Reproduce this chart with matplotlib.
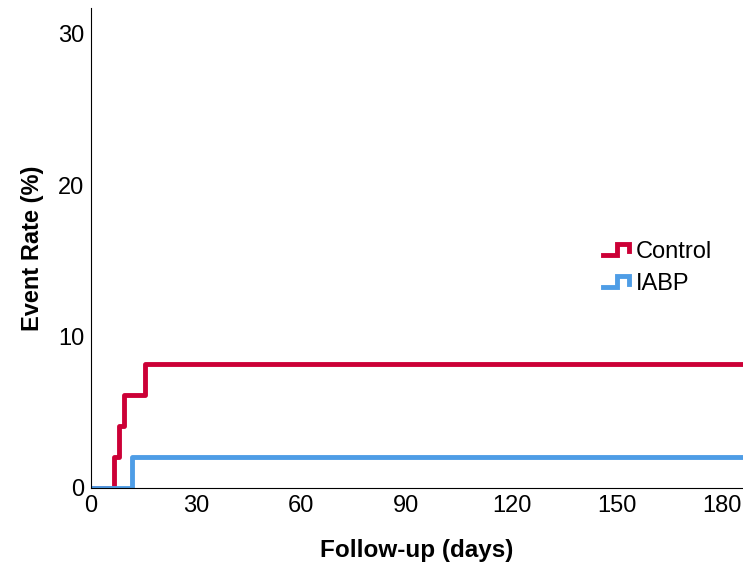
import matplotlib.pyplot as plt
from matplotlib.legend_handler import HandlerBase
from matplotlib.lines import Line2D

plt.rcParams['font.family'] = ['Liberation Sans', 'DejaVu Sans']

# Kaplan-Meier style event rates (%) by follow-up day
control_days = [0, 6.6, 8.0, 9.5, 15.5, 186]
control_rate = [0, 2.04, 4.08, 6.12, 8.16, 8.16]
iabp_days = [0, 11.8, 186]
iabp_rate = [0, 2.04, 2.04]

red = '#CC0036'
blue = '#4E9DE6'


class StepHandler(HandlerBase):
    def create_artists(self, legend, orig_handle, xdescent, ydescent,
                       width, height, fontsize, trans):
        x0, w, h = -xdescent, width, height
        xs = [x0, x0 + w * 0.5, x0 + w * 0.5, x0 + w * 0.93, x0 + w * 0.93]
        ys = [h * 0.2, h * 0.2, h * 0.85, h * 0.85, h * 0.4]
        ln = Line2D(xs, ys, color=orig_handle.get_color(), lw=3.5,
                    solid_joinstyle='miter', transform=trans)
        return [ln]


fig = plt.figure(figsize=(7.43, 5.64), dpi=100)
ax = fig.add_axes([91 / 743, 1 - 488 / 564, 652 / 743, 480 / 564])

l1, = ax.step(control_days, control_rate, where='post', color=red, lw=3.5, label='Control')
l2, = ax.step(iabp_days, iabp_rate, where='post', color=blue, lw=3.5, label='IABP')

ax.set_xlim(0, 186)
ax.set_ylim(0, 31.7)
ax.set_xticks([0, 30, 60, 90, 120, 150, 180])
ax.set_yticks([0, 10, 20, 30])
ax.tick_params(length=0, labelsize=17, pad=5)
for s in ['top', 'right']:
    ax.spines[s].set_visible(False)
ax.spines['left'].set_linewidth(0.8)
ax.spines['bottom'].set_linewidth(0.8)

ax.set_xlabel('Follow-up (days)', fontsize=17.5, fontweight='bold', labelpad=16)
ax.set_ylabel('Event Rate (%)', fontsize=17, fontweight='bold', labelpad=10)

ax.legend(handles=[l1, l2], handler_map={Line2D: StepHandler()}, frameon=False,
          fontsize=17, loc='center left', bbox_to_anchor=(0.752, 0.458),
          handlelength=1.2, handletextpad=0.2, labelspacing=0.45)

fig.savefig('out.png', dpi=100)
